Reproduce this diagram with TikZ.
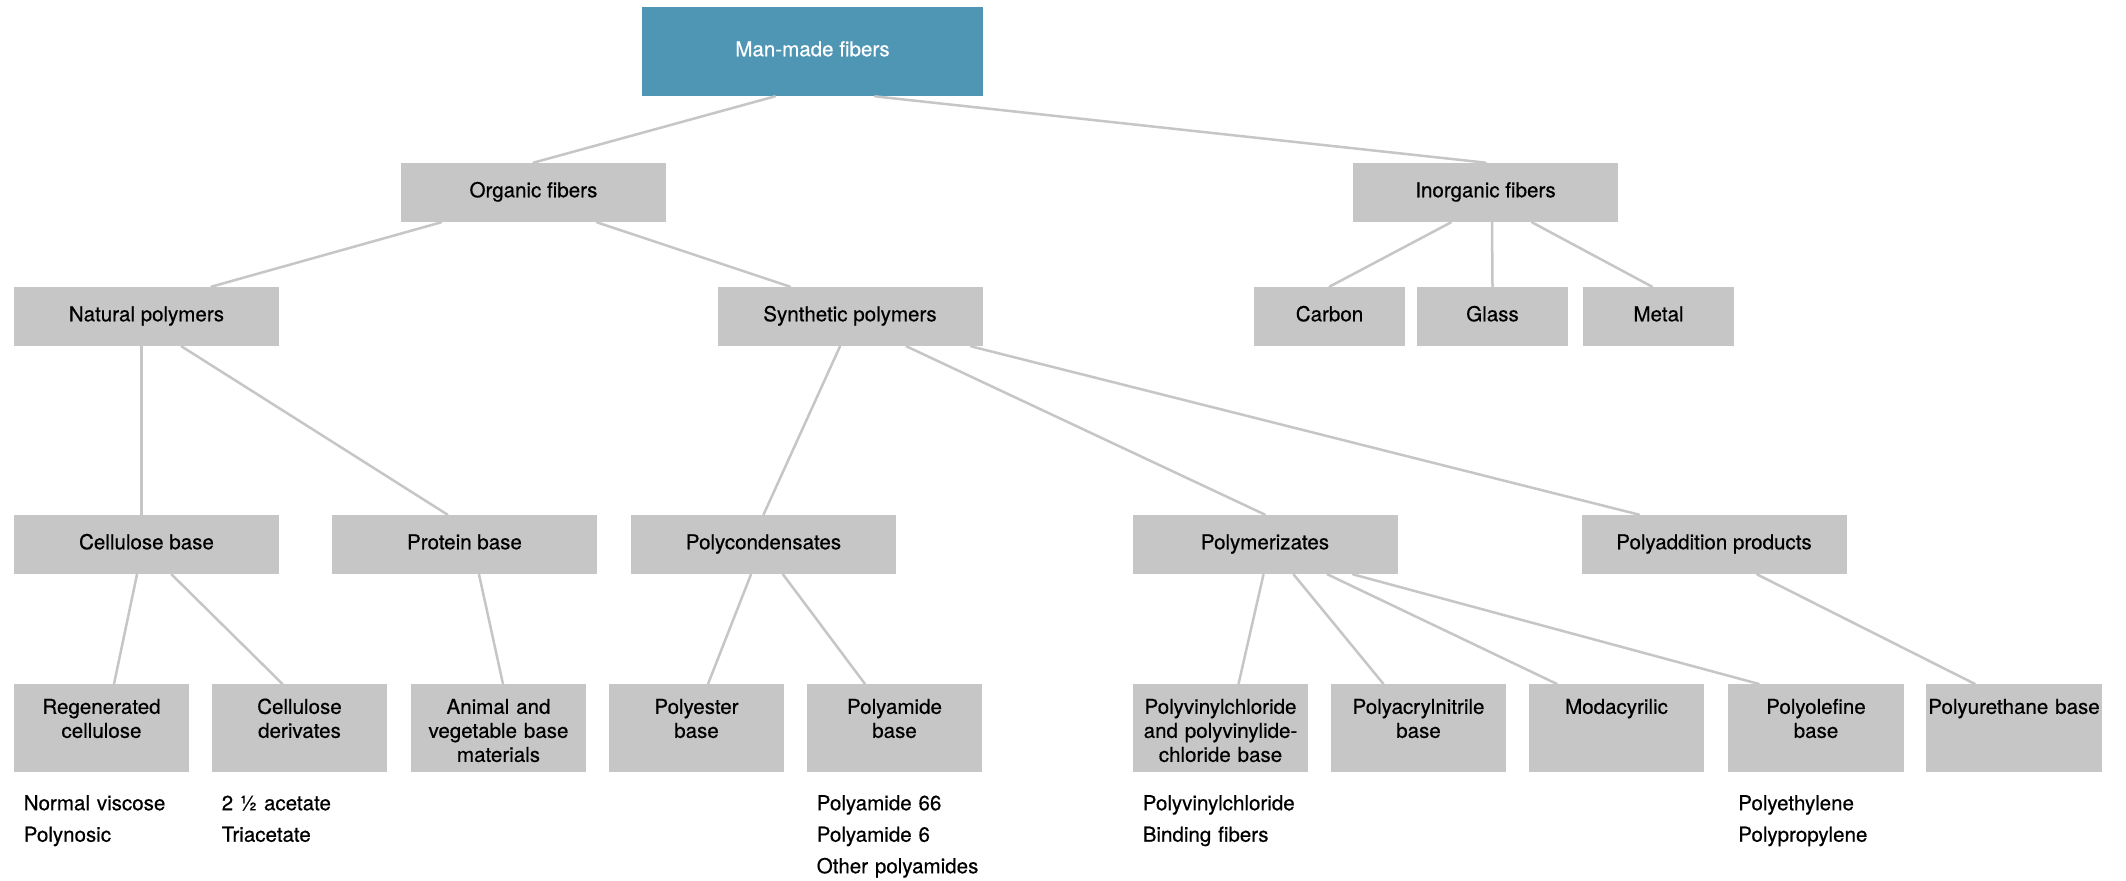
\documentclass[tikz,border=0pt]{standalone}
\usepackage{fontspec}
\setmainfont{TeX Gyre Heros}[FakeBold=0.5]
\definecolor{topblue}{HTML}{4F96B5}
\definecolor{boxgray}{HTML}{C6C6C6}
\definecolor{linkgray}{HTML}{C6C6C6}
\newcommand{\labelfont}{\fontsize{11.7}{13.66}\selectfont}
\tikzset{
  box/.style={fill=boxgray, inner sep=0pt, minimum width=5.3cm, minimum height=1.18cm,
    text height=0.3cm, text depth=0.11cm, font=\labelfont},
  smallbox/.style={box, minimum width=3.02cm},
  leaf/.style={fill=boxgray, inner sep=0pt, anchor=north, text width=3.51cm, align=center,
    text height=0.59cm, text depth=1.17cm, font=\labelfont},
  sublist/.style={anchor=base west, inner sep=0pt, text width=3.4cm, align=left,
    font=\fontsize{11.7}{17.93}\selectfont},
  link/.style={draw=linkgray, line width=0.05cm}
}
\begin{document}
\begin{tikzpicture}[line cap=round,line join=round]
  \useasboundingbox (0,0) rectangle (42.52,-17.6);
  \fill[white] (0,0) rectangle (42.52,-17.6);
  % top levels
  \node[box, fill=topblue, text=white, minimum width=6.82cm, minimum height=1.78cm] (man) at (16.25,-1.03) {Man-made fibers};
  \node[box] (organic)   at (10.67,-3.85) {Organic fibers};
  \node[box] (inorganic) at (29.71,-3.85) {Inorganic fibers};
  \node[box] (natural)   at (2.93,-6.33)  {Natural polymers};
  \node[box] (synthetic) at (17.00,-6.33) {Synthetic polymers};
  \node[smallbox] (carbon) at (26.59,-6.33) {Carbon};
  \node[smallbox] (glass)  at (29.85,-6.33) {Glass};
  \node[smallbox] (metal)  at (33.17,-6.33) {Metal};
  \node[box] (cellulose) at (2.93,-10.89)  {Cellulose base};
  \node[box] (protein)   at (9.29,-10.89)  {Protein base};
  \node[box] (polycond)  at (15.27,-10.89) {Polycondensates};
  \node[box] (polymer)   at (25.30,-10.89) {Polymerizates};
  \node[box] (polyadd)   at (34.28,-10.89) {Polyaddition products};
  % bottom row
  \foreach \n/\x/\t in {regen/2.03/{Regenerated\\cellulose},
                        deriv/5.99/{Cellulose\\derivates},
                        animal/9.97/{Animal and\\vegetable base\\materials},
                        polyester/13.93/{Polyester\\base},
                        polyamide/17.89/{Polyamide\\base},
                        polyvinyl/24.41/{Polyvinylchloride\\and polyvinylide-\\chloride base},
                        polyacryl/28.37/{Polyacrylnitrile\\base},
                        modacryl/32.33/{Modacyrilic},
                        polyolefin/36.32/{Polyolefine\\base},
                        polyureth/40.28/{Polyurethane base}}
    \node[leaf] (\n) at (\x,-13.68) {\t};
  \node[sublist] (regenlist) at ([xshift=0.2cm,yshift=-0.75cm]regen.south west) {Normal viscose\\Polynosic};
  \node[sublist] (derivlist) at ([xshift=0.2cm,yshift=-0.75cm]deriv.south west) {2 ½ acetate\\Triacetate};
  \node[sublist] (amidelist) at ([xshift=0.2cm,yshift=-0.75cm]polyamide.south west) {Polyamide 66\\Polyamide 6\\Other polyamides};
  \node[sublist] (vinyllist) at ([xshift=0.2cm,yshift=-0.75cm]polyvinyl.south west) {Polyvinylchloride\\Binding fibers};
  \node[sublist] (olefinlist) at ([xshift=0.2cm,yshift=-0.75cm]polyolefin.south west) {Polyethylene\\Polypropylene};
  % connectors
  \foreach \a/\b/\sa/\sb in {man/organic/-0.75/0, man/inorganic/1.25/0,
                             organic/natural/-1.85/1.3, organic/synthetic/1.27/-1.2,
                             inorganic/carbon/-0.69/0, inorganic/glass/0.13/0, inorganic/metal/0.93/-0.13,
                             natural/cellulose/-0.1/-0.1, natural/protein/0.7/-0.34,
                             synthetic/polycond/-0.2/0, synthetic/polymer/1.13/0, synthetic/polyadd/2.42/-1.5,
                             cellulose/regen/-0.19/0.25, cellulose/deriv/0.5/-0.34,
                             protein/animal/0.29/0.09,
                             polycond/polyester/-0.25/0.23, polycond/polyamide/0.39/-0.59,
                             polymer/polyvinyl/-0.03/0.36, polymer/polyacryl/0.57/-0.7,
                             polymer/modacryl/1.25/-1.19, polymer/polyolefin/1.76/-1.14,
                             polyadd/polyureth/0.86/-0.78}
    \draw[link] ([xshift=\sa cm]\a.south) -- ([xshift=\sb cm]\b.north);
\end{tikzpicture}
\end{document}
